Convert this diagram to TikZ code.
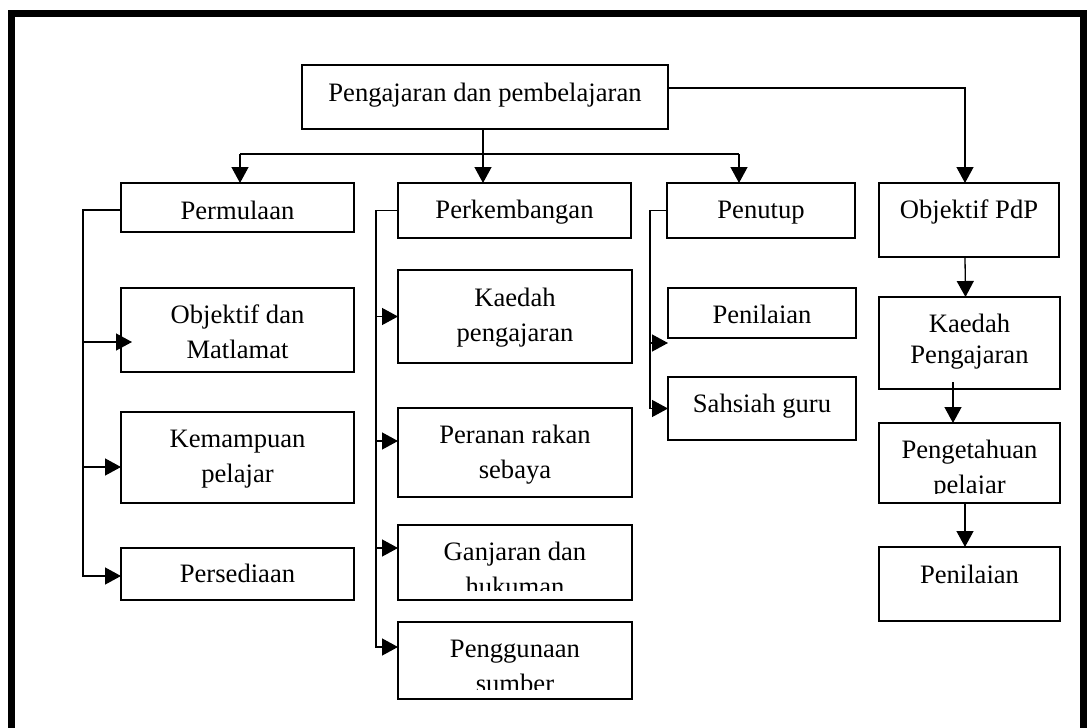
\documentclass[tikz,border=0pt]{standalone}
\usepackage{fontspec}
\setmainfont{Liberation Serif}
\usetikzlibrary{arrows.meta}
\tikzset{
  box/.style={draw, line width=1.3pt, inner sep=0pt, outer sep=0pt},
  txt/.style={font=\fontsize{26.6}{35}\selectfont, align=center, anchor=north, inner sep=0pt},
  conn/.style={line width=1.3pt},
  arr/.style={conn, -{Triangle[length=16pt,width=17pt]}},
}
% name, x1, y1, x2, y2, first baseline, text
\newcommand\bx[7]{%
  \node[box, minimum width={#4-#2}, minimum height={#5-#3}] (#1) at ({(#2+#4)/2},{(#3+#5)/2}) {};
  \begin{scope}
    \clip (#2,#3) rectangle (#4,#5-10);
    \node[txt] (#1t) at ({(#2+#4)/2},{#6-24.5}) {\strut #7};
  \end{scope}}
\begin{document}
\begin{tikzpicture}[x=1pt,y=-1pt]
\useasboundingbox (0,0) rectangle (1088,728);
\clip (0,0) rectangle (1088,728);
\fill[white] (0,0) rectangle (1088,728);
\draw[line width=7pt] (11.5,760) -- (11.5,13.5) -- (1083.5,13.5) -- (1083.5,760);

\bx{top}{302}{65}{668}{129}{101}{Pengajaran dan pembelajaran}
\bx{perm}{121}{183}{354}{232}{219}{Permulaan}
\bx{perk}{398}{183}{631}{238}{218}{Perkembangan}
\bx{pen}{667}{183}{855}{238}{218}{Penutup}
\bx{obj}{879}{183}{1059}{257}{218}{Objektif PdP}
\bx{obm}{121}{288}{354}{372}{323}{Objektif dan\\Matlamat}
\bx{kem}{121}{412}{354}{503}{447}{Kemampuan\\pelajar}
\bx{pers}{121}{548}{354}{600}{582}{Persediaan}
\bx{kae}{398}{270}{632}{363}{306}{Kaedah\\pengajaran}
\bx{per}{398}{408}{632}{497}{443}{Peranan rakan\\sebaya}
\bx{gan}{398}{525}{632}{600}{560}{Ganjaran dan\\hukuman}
\bx{sum}{398}{622}{632}{699}{657}{Penggunaan\\sumber}
\bx{pnl}{668}{288}{856}{338}{323}{Penilaian}
\bx{sah}{668}{377}{856}{440}{412}{Sahsiah guru}
\bx{kp}{879}{297}{1060}{389}{332}{Kaedah\\[-4pt]Pengajaran}
\bx{pt}{879}{423}{1060}{503}{458}{Pengetahuan\\pelajar}
\bx{pn}{879}{547}{1060}{621}{583}{Penilaian}

% top-level connectors
\coordinate (busL) at (240,154);
\coordinate (busR) at (739,154);
\draw[conn] (busL) -- (busR);
\draw[arr] (busL) -- (busL |- perm.north);
\draw[arr] (busR) -- (busR |- pen.north);
\draw[arr] ([xshift=-2pt]top.south) -- ([xshift=-2pt]top.south |- perk.north);
\draw[arr] ([yshift=9pt]top.east) -| ([xshift=-4pt]obj.north);

% Permulaan column
\coordinate (pmx) at (83,0);
\coordinate (inObm) at ([yshift=-12pt]obm.west);
\coordinate (inKem) at ([yshift=-9.5pt]kem.west);
\coordinate (inPers) at ([yshift=-2pt]pers.west);
\coordinate (outPerm) at ([yshift=-2.5pt]perm.west);
\draw[arr] (outPerm) -- (outPerm -| pmx) |- (inPers);
\draw[arr, shorten >=-11pt] (pmx |- inObm) -- (inObm);
\draw[arr] (pmx |- inKem) -- (inKem);

% Perkembangan column
\coordinate (pkx) at (376,0);
\coordinate (inSum) at ([yshift=13.5pt]sum.west);
\coordinate (inPer) at ([yshift=11.5pt]per.west);
\coordinate (inGan) at ([yshift=14.5pt]gan.west);
\draw[arr] (perk.west) -- (perk.west -| pkx) |- (inSum);
\draw[arr] (pkx |- kae.west) -- (kae.west);
\draw[arr] (pkx |- inPer) -- (inPer);
\draw[arr] (pkx |- inGan) -- (inGan);

% Penutup column
\coordinate (ptx) at (650,0);
\coordinate (inPnl) at ([yshift=-30pt]pnl.west);
\draw[arr] (pen.west) -- (pen.west -| ptx) |- (sah.west);
\draw[arr] (ptx |- inPnl) -- (inPnl);

% Objektif PdP column
\draw[arr] ([xshift=-4pt]obj.south) -- ([xshift=-4pt]kp.north);
\draw[arr] ([xshift=-16.5pt,yshift=7pt]kp.south) -- ([xshift=-16.5pt]pt.north);
\draw[arr] ([xshift=-4.5pt]pt.south) -- ([xshift=-4.5pt]pn.north);
\end{tikzpicture}
\end{document}
